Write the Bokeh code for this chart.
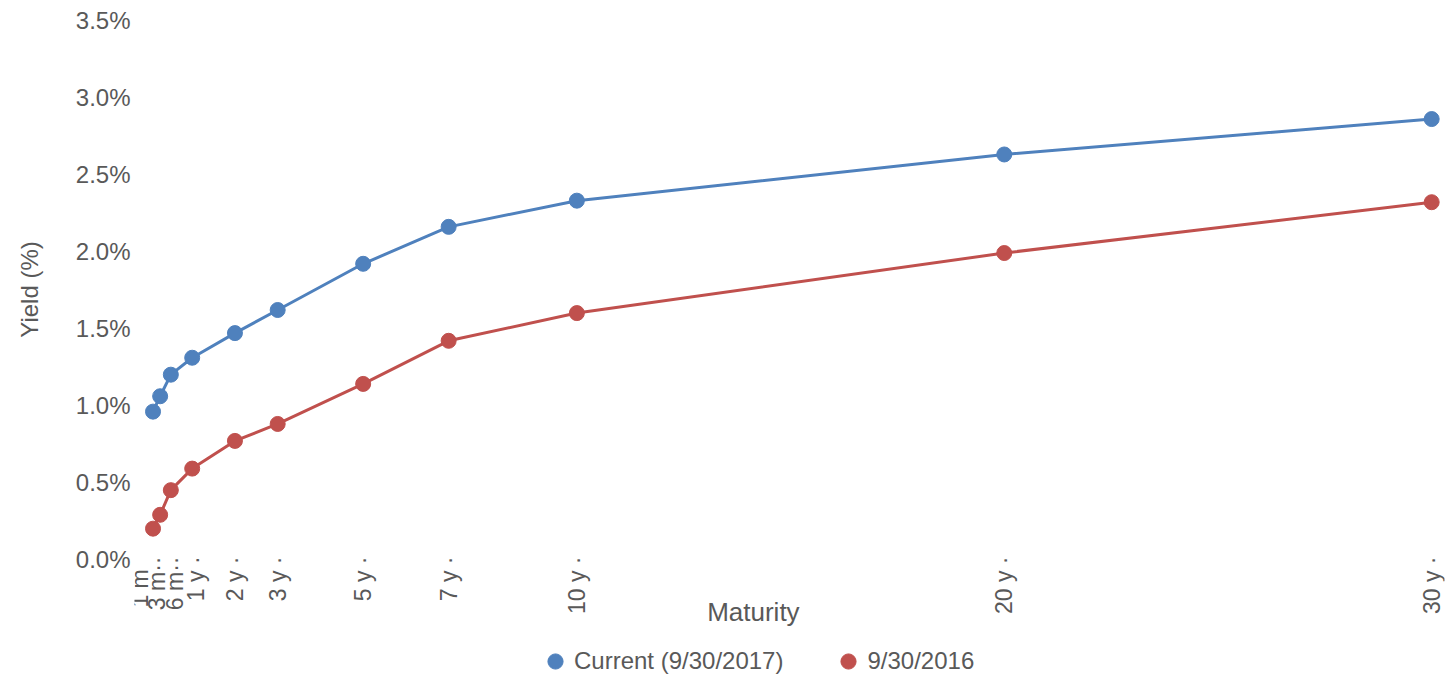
from bokeh.plotting import figure
from bokeh.models import (FixedTicker, PrintfTickFormatter, CustomJSTickFormatter,
                          Legend, LegendItem, Range1d)
from bokeh.embed import file_html
from bokeh.resources import INLINE

# ---- data ----
maturity_years = [1/12, 0.25, 0.5, 1, 2, 3, 5, 7, 10, 20, 30]
maturity_labels = ["1 m\u00a0\u00a0", "3 m··", "6 m··", "1 y ·", "2 y ·", "3 y ·", "5 y ·",
                   "7 y ·", "10 y ·", "20 y ·", "30 y ·"]
current_2017 = [0.96, 1.06, 1.20, 1.31, 1.47, 1.62, 1.92, 2.16, 2.33, 2.63, 2.86]
prior_2016 = [0.20, 0.29, 0.45, 0.59, 0.77, 0.88, 1.14, 1.42, 1.60, 1.99, 2.32]
y_ticks = [0.0, 0.5, 1.0, 1.5, 2.0, 2.5, 3.0, 3.5]

BLUE = "#4F81BD"
RED = "#C0504D"
TXT = "#595959"
FONT = "Liberation Sans"

X0, X1 = -0.35, 30.3
FRAME_W = 1310
px_per_year = FRAME_W / (X1 - X0)
# small pixel nudges so crowded short-maturity labels don't overlap
label_nudge_px = [-13, -3, 4, 4, 0, 0, 0, 0, 0, 0, 0]
tick_pos = [m + d / px_per_year for m, d in zip(maturity_years, label_nudge_px)]

# frame extends below y=0 to leave room for axis labels and legend inside it
Y0, Y1 = -0.773, 3.5

p = figure(frame_width=FRAME_W, frame_height=658,
           min_border_left=134, min_border_right=1, min_border_top=20,
           min_border_bottom=0,
           x_range=Range1d(X0, X1), y_range=Range1d(Y0, Y1),
           output_backend="svg", toolbar_location=None)

p.outline_line_color = None
p.grid.grid_line_color = None
p.background_fill_color = "white"
p.border_fill_color = "white"

p.line(maturity_years, current_2017, line_color=BLUE, line_width=3)
p.line(maturity_years, prior_2016, line_color=RED, line_width=3)
r_cur = p.scatter(maturity_years, current_2017, size=15, fill_color=BLUE, line_color=BLUE)
r_pri = p.scatter(maturity_years, prior_2016, size=15, fill_color=RED, line_color=RED)

# x axis (drawn at y = 0)
xa = p.xaxis[0]
xa.fixed_location = 0
xa.ticker = FixedTicker(ticks=tick_pos)
xa.formatter = CustomJSTickFormatter(args=dict(vals=tick_pos, labs=maturity_labels), code="""
    let best = 0, bd = 1e9;
    for (let i = 0; i < vals.length; i++) {
        const d = Math.abs(vals[i] - tick);
        if (d < bd) { bd = d; best = i; }
    }
    return labs[best];
""")
xa.major_label_orientation = 3.14159265 / 2
xa.axis_line_color = None
xa.major_tick_line_color = None
xa.minor_tick_line_color = None
xa.major_tick_out = 0
xa.major_tick_in = 0
xa.major_label_standoff = -3
xa.major_label_text_font = FONT
xa.major_label_text_font_size = "23px"
xa.major_label_text_color = TXT
xa.axis_label = "Maturity" + "\u00a0" * 10
xa.axis_label_text_font = FONT
xa.axis_label_text_font_size = "26px"
xa.axis_label_text_font_style = "normal"
xa.axis_label_text_color = TXT
xa.axis_label_standoff = -20

# y axis
ya = p.yaxis[0]
ya.ticker = FixedTicker(ticks=y_ticks)
ya.formatter = PrintfTickFormatter(format="%.1f%%")
ya.axis_line_color = None
ya.major_tick_line_color = None
ya.minor_tick_line_color = None
ya.major_tick_out = 0
ya.major_tick_in = 0
ya.major_label_standoff = 4
ya.major_label_text_font = FONT
ya.major_label_text_font_size = "24px"
ya.major_label_text_color = TXT
ya.axis_label = "\u00a0" * 18 + "Yield (%)"
ya.axis_label_text_font = FONT
ya.axis_label_text_font_size = "24px"
ya.axis_label_text_font_style = "normal"
ya.axis_label_text_color = TXT
ya.axis_label_standoff = 30

legend = Legend(items=[LegendItem(label="Current (9/30/2017)", renderers=[r_cur]),
                       LegendItem(label="9/30/2016", renderers=[r_pri])],
                orientation="horizontal", location=(402, -2),
                label_text_font=FONT, label_text_font_size="24px",
                label_text_color=TXT, glyph_width=38, glyph_height=38,
                label_standoff=0, spacing=46, padding=0, margin=0,
                border_line_color=None, background_fill_alpha=0)
p.add_layout(legend)

open("out.html", "w").write(file_html(p, INLINE))
